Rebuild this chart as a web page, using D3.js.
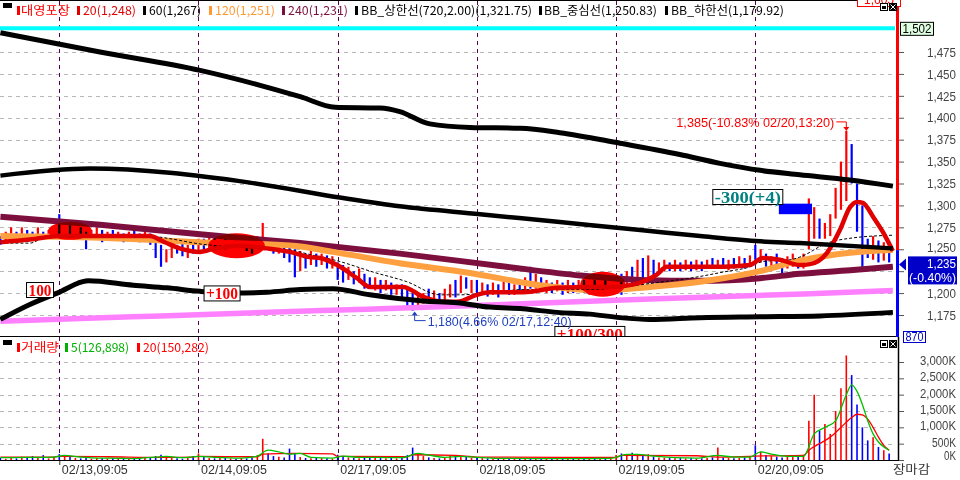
<!DOCTYPE html>
<html><head><meta charset="utf-8">
<script src="https://cdn.jsdelivr.net/npm/d3@7"></script>
<style>body{margin:0;background:#fff}svg{display:block}</style>
</head><body><svg id="c" width="960" height="480"></svg>
<script>
// ---------------- DATA ----------------
const dayLabels = ["02/13,09:05","02/14,09:05","02/17,09:05","02/18,09:05","02/19,09:05","02/20,09:05"];
const dayStart = [11,37,63,89,115,141];
const priceTicks = [1175,1200,1225,1250,1275,1300,1325,1350,1375,1400,1425,1450,1475];
const volTicks = [0,500,1000,1500,2000,2500,3000];
const stockName = "대영포장";
const maNames = ["20","60","120","240"];
const maLast = [1248,1267,1251,1231];
const bbNames = ["BB_상한선(720,2.00)","BB_중심선","BB_하한선"];
const bbLast = ["1,321.75","1,250.83","1,179.92"];
const volNames = ["5","20"];
const volLast = ["126,898","150,282"];
const highLevel = 1502;
const lastPrice = 1235, lastPct = "-0.40%", lastVol = 870, topLabel = "1,605";

const barHigh = [1265,1270,1275,1270,1275,1272,1270,1275,1270,1272,1275,
1290,1280,1278,1275,1275,1270,1272,1275,1272,1270,1272,1270,1268,1270,1272,1268,1270,1268,1265,1255,1250,1255,1255,1258,1255,1258,
1262,1262,1265,1265,1262,1265,1262,1265,1262,1262,1260,1265,1280,1262,1260,1258,1255,1252,1250,1248,1245,1248,1245,1245,1243,1242,
1235,1232,1230,1225,1228,1222,1218,1218,1215,1215,1212,1210,1210,1205,1200,1198,1200,1205,1203,1200,1205,1210,1215,1220,1218,1215,
1215,1212,1210,1212,1210,1215,1212,1210,1215,1218,1230,1222,1218,1215,1212,1215,1212,1215,1212,1215,1215,1212,1215,1218,1215,1218,
1220,1222,1225,1230,1238,1240,1243,1238,1235,1238,1235,1238,1235,1238,1236,1238,1236,1238,1240,1238,1240,1238,1240,1242,1240,1243,
1255,1250,1245,1242,1245,1240,1242,1245,1240,1245,1308,1298,1285,1280,1290,1320,1350,1385,1370,1325,1300,1262,1265,1260,1258,1250];
const barLow = [1255,1260,1265,1262,1265,1262,1260,1265,1262,1262,1265,
1265,1268,1265,1265,1262,1250,1262,1265,1258,1262,1262,1260,1258,1260,1262,1258,1260,1255,1240,1230,1235,1240,1245,1242,1240,1245,
1248,1250,1250,1252,1248,1250,1248,1252,1250,1248,1245,1250,1255,1250,1245,1245,1240,1235,1218,1225,1228,1232,1230,1232,1228,1228,
1215,1212,1215,1210,1212,1205,1205,1203,1200,1203,1198,1198,1195,1185,1180,1183,1188,1190,1190,1188,1192,1195,1195,1200,1205,1200,
1198,1198,1196,1198,1195,1200,1198,1198,1200,1202,1205,1205,1203,1200,1200,1202,1198,1200,1200,1202,1200,1198,1200,1202,1200,1203,
1205,1198,1205,1210,1212,1215,1218,1220,1222,1225,1225,1225,1225,1226,1225,1226,1225,1228,1228,1228,1228,1226,1228,1230,1228,1230,
1238,1235,1230,1225,1228,1222,1228,1230,1228,1228,1250,1262,1262,1262,1265,1285,1295,1305,1325,1270,1228,1240,1238,1235,1237,1235];
const barUp = [0,1,1,0,1,0,0,1,0,1,1,
0,1,0,1,0,0,1,1,0,1,0,1,0,1,0,0,1,0,0,0,1,1,0,0,1,0,
1,0,1,0,1,0,1,0,1,0,0,1,1,0,0,1,0,0,0,1,0,1,0,1,0,1,
0,0,1,0,1,0,0,1,0,1,0,1,0,0,0,1,1,0,1,0,1,1,0,1,0,1,
0,1,0,1,0,1,0,1,0,1,0,1,0,1,0,1,0,1,0,1,0,1,0,1,0,1,
1,0,1,0,1,0,1,0,1,1,0,1,0,1,0,1,0,1,0,1,0,1,0,1,0,1,
0,1,0,1,0,0,1,1,0,1,1,1,0,1,1,1,1,1,0,0,0,0,1,0,1,0];
const volume = [60,40,80,50,100,70,120,60,150,50,90,
180,120,90,60,50,80,40,60,50,40,60,50,40,30,50,40,60,80,120,160,90,60,50,40,60,120,
200,90,60,50,70,60,50,40,60,50,80,150,650,200,120,100,80,350,200,90,60,50,70,60,50,40,
160,120,80,60,50,70,120,80,60,50,60,50,70,150,380,200,120,80,60,50,70,120,150,90,110,60,
80,60,50,40,50,60,40,30,50,40,60,40,30,40,30,40,30,40,30,50,40,60,50,40,50,60,
150,200,180,220,150,120,180,100,80,70,60,50,60,50,60,40,50,60,80,380,80,60,50,60,80,120,
450,250,150,120,100,80,100,90,120,150,1200,2000,900,1100,800,1500,2200,3200,2600,1700,1000,600,700,400,300,200];

const bbUpper = [[0,1497],[18.6,1475],[37.3,1454],[48.5,1437],[56,1424],[62.5,1412],[70.9,1411],[74.6,1407],[80.2,1393],[87.7,1389],[97.1,1388],[104.5,1383],[115.7,1371],[126.9,1358],[134.4,1348],[141.9,1340],[149.3,1335],[158.7,1329],[166.7,1322]];
const bbMiddle = [[0,1334],[16.7,1342],[46.6,1326],[63.4,1309],[74.6,1299],[89.6,1290],[104.5,1281],[119.5,1272],[130.7,1265],[141.9,1259],[149.3,1257],[166.7,1251]];
const bbLower = [[0,1170],[5.5,1187],[10.6,1200],[16.4,1214],[24.8,1209],[31.1,1206],[37.3,1202],[43.4,1200],[49.8,1201],[56,1204],[62.1,1205],[69,1198],[78.9,1191],[85.3,1189],[91.4,1184],[97.6,1182],[104,1178],[110.1,1176],[115.7,1172],[121.3,1170],[130.7,1172],[141.9,1173],[153.1,1174],[166.7,1178]];
const pinkLine = [[0,1168],[30,1174],[60,1180],[90,1186],[120,1193],[150,1199],[166.7,1203]];
const ma240 = [[0,1287],[18.6,1278],[37.3,1267],[56,1257],[74.6,1245],[93.3,1231],[108.3,1220],[119.5,1215],[130.7,1214],[141.9,1217],[149.3,1222],[158.7,1226],[166.7,1230]];
const ma120 = [[0,1265],[18.6,1263],[37.3,1258],[54.7,1254],[62.1,1247],[74.6,1234],[87.7,1223],[100.8,1209],[112,1203],[121.3,1207],[130.7,1213],[141.9,1225],[149.3,1237],[158.7,1246],[166.7,1249]];
const ma60 = [[0,1257],[5.5,1257],[8.3,1263],[18.6,1264],[29.2,1264],[31.7,1262],[37.3,1256],[42.9,1253],[48.5,1251],[54.1,1249],[57.8,1244],[63.4,1236],[69.6,1224],[75.9,1213],[82.1,1198],[85.3,1198],[91.4,1200],[97.6,1204],[110.1,1204],[116.3,1207],[122.6,1212],[128.8,1217],[135,1224],[140,1230],[142.4,1236],[147.5,1238],[149.3,1241],[154.4,1257],[159.3,1263],[166.7,1266]];
const ma20 = [[0,1258],[5.5,1261],[11.1,1265],[18.6,1265],[27.9,1265],[30.7,1258],[33.5,1251],[37.3,1247],[40.1,1251],[44.8,1254],[49.8,1251],[54.1,1247],[57.8,1241],[59.7,1240],[62.9,1232],[66.6,1217],[69,1207],[75.2,1207],[78.9,1196],[82.7,1190],[85.3,1190],[89,1198],[91.4,1201],[97.6,1201],[104,1206],[110.1,1207],[113.9,1207],[119.5,1212],[122.6,1221],[124.5,1230],[128.8,1230],[135,1230],[140,1232],[142.4,1240],[145.6,1238],[149.3,1232],[151.2,1233],[154.4,1246],[156.8,1272],[158.7,1298],[160,1304],[161.1,1303],[163,1287],[164.9,1269],[166.7,1248]];
const volMa5 = [[0,70],[5,80],[10,90],[12,140],[15,90],[20,55],[25,45],[29,90],[31,110],[34,70],[37,110],[40,80],[45,55],[48,120],[50,300],[52,250],[54,180],[56,200],[58,80],[62,60],[64,120],[67,80],[70,80],[75,70],[78,200],[80,150],[83,80],[86,110],[89,80],[93,50],[100,45],[110,45],[114,50],[117,170],[119,170],[122,120],[126,70],[130,55],[134,140],[137,90],[140,90],[142,250],[144,180],[147,110],[150,110],[152,800],[154,1000],[156,1200],[158,2000],[159,2300],[160,2100],[161,1700],[162,1200],[163,800],[164,550],[165,400],[166,300]];
const volMa20 = [[0,90],[10,90],[11,110],[20,100],[30,80],[36,90],[37,110],[48,100],[49,180],[55,200],[62,190],[63,110],[76,100],[77,160],[85,140],[89,90],[115,80],[116,140],[130,130],[134,90],[141,120],[150,140],[151,300],[153,500],[155,700],[157,1000],[159,1300],[160,1400],[161,1380],[162,1250],[163,1000],[164,700],[165,450],[166,300]];

// signal events
const sigEllipses = [{i:13,p:1271},{i:44.1,p:1254},{i:112.5,p:1210}];
const sigLabels = [{i:7.4,p:1203.5,t:"100"},{i:41.4,p:1199.6,t:"+100"},{i:110.1,p:1153.4,t:"+100/300"},{i:139.6,p:1309.6,t:"-300(+4)"}];
const sigBlock = {i0:145.4,i1:151.6,p0:1290,p1:1302};
const hiNote = {i:158,p:1385,t:"1,385(-10.83% 02/20,13:20)"};
const loNote = {i:77,p:1180,t:"1,180(4.66% 02/17,12:40)"};

// ---------------- DRAW ----------------
const FONT = "'Noto Sans CJK KR','Noto Sans',sans-serif";
const NUM = "'Liberation Sans','DejaVu Sans',sans-serif";
const svg = d3.select("#c");
svg.append("rect").attr("width",960).attr("height",480).attr("fill","#fff");
const x = d3.scaleLinear().domain([0,167]).range([0.4,894.5]);
const y = d3.scaleLinear().domain([1175,1475]).range([315,52]);
const yv = d3.scaleLinear().domain([0,3000]).range([460,362]);
const PR = 895;

const defs = svg.append("defs");
defs.append("clipPath").attr("id","cp").append("rect").attr("x",0).attr("y",1).attr("width",PR).attr("height",336);
defs.append("clipPath").attr("id","cv").append("rect").attr("x",0).attr("y",337).attr("width",PR).attr("height",124);

// gridlines
const grid = svg.append("g");
grid.selectAll("line.hp").data(priceTicks).join("line")
  .attr("x1",0).attr("x2",PR).attr("y1",d=>Math.round(y(d))+0.5).attr("y2",d=>Math.round(y(d))+0.5)
  .attr("stroke","#b8b8b8").attr("stroke-dasharray","4,4");
grid.selectAll("line.hv").data(volTicks.slice(1)).join("line")
  .attr("x1",0).attr("x2",PR).attr("y1",d=>Math.round(yv(d))+0.5).attr("y2",d=>Math.round(yv(d))+0.5)
  .attr("stroke","#b8b8b8").attr("stroke-dasharray","4,4");
grid.selectAll("line.vd").data(dayStart).join("line")
  .attr("x1",d=>Math.round(x(d))+0.5).attr("x2",d=>Math.round(x(d))+0.5).attr("y1",1).attr("y2",461)
  .attr("stroke","#5a0050").attr("stroke-dasharray","4,4");

// price panel
const P = svg.append("g").attr("clip-path","url(#cp)");
P.append("line").attr("x1",0).attr("x2",PR).attr("y1",y(highLevel)).attr("y2",y(highLevel))
  .attr("stroke","#00ffff").attr("stroke-width",4);

const idx = d3.range(barHigh.length);
P.selectAll("line.bar").data(idx).join("line")
  .attr("x1",i=>x(i)).attr("x2",i=>x(i)).attr("y1",i=>y(barHigh[i])).attr("y2",i=>y(barLow[i]))
  .attr("stroke",i=>barUp[i]?"#ff0000":"#0000ff").attr("stroke-width",2.2);

const line = d3.line().x(d=>x(d[0])).y(d=>y(d[1])).curve(d3.curveMonotoneX);
function drawLine(g,data,color,w,dash){
  g.append("path").attr("d",line(data)).attr("fill","none").attr("stroke",color)
   .attr("stroke-width",w).attr("stroke-dasharray",dash||null).attr("stroke-linejoin","round");
}
drawLine(P,ma240,"#7d0f3e",6);
drawLine(P,ma120,"#ffa040",6);
drawLine(P,ma60,"#000",1,"3,2");
drawLine(P,ma20,"#e00000",4.5);
drawLine(P,pinkLine,"#ff80ff",5.5);
drawLine(P,bbLower,"#000",5);
drawLine(P,bbMiddle,"#000",4.5);
drawLine(P,bbUpper,"#000",5);

const ell = [[22,9],[28.5,12.5],[22.5,12.5]];
P.selectAll("ellipse").data(sigEllipses).join("ellipse")
  .attr("cx",d=>x(d.i)).attr("cy",d=>y(d.p)).attr("rx",(d,k)=>ell[k][0]).attr("ry",(d,k)=>ell[k][1])
  .attr("fill","#ff0000").style("mix-blend-mode","multiply");

P.append("rect").attr("x",x(sigBlock.i0)).attr("y",y(sigBlock.p1)).attr("width",x(sigBlock.i1)-x(sigBlock.i0))
  .attr("height",y(sigBlock.p0)-y(sigBlock.p1)).attr("fill","#0000ff");

const boxW = [27,36,70,70];
const sg = P.selectAll("g.sig").data(sigLabels).join("g").attr("transform",d=>`translate(${x(d.i)},${y(d.p)})`);
sg.append("rect").attr("x",(d,k)=>-boxW[k]/2).attr("y",-7.5).attr("width",(d,k)=>boxW[k]).attr("height",15)
  .attr("fill","#fff").attr("stroke","#000");
sg.append("text").attr("text-anchor","middle").attr("y",6).text(d=>d.t)
  .attr("font-family","'Liberation Serif',serif").attr("font-weight","bold").attr("font-size",16)
  .attr("fill",(d,k)=>k===3?"#008080":"#ff0000")
  .attr("textLength",(d,k)=>boxW[k]-4).attr("lengthAdjust","spacingAndGlyphs");

// high / low notes
const hx = x(hiNote.i), hy = y(hiNote.p);
P.append("path").attr("d",`M${hx-10},${hy-9}H${hx}V${hy-3}`).attr("fill","none").attr("stroke","#ff0000");
P.append("path").attr("d",`M${hx-3},${hy-4}L${hx+3},${hy-4}L${hx},${hy}Z`).attr("fill","#ff0000");
P.append("text").attr("x",hx-12).attr("y",hy-4).attr("text-anchor","end").text(hiNote.t)
  .attr("font-family",NUM).attr("font-size",12).attr("fill","#ff0000")
  .attr("textLength",158).attr("lengthAdjust","spacingAndGlyphs");
const lx = x(loNote.i)+2, ly = y(loNote.p);
P.append("path").attr("d",`M${lx},${ly+4}V${ly+10}H${lx+11}`).attr("fill","none").attr("stroke","#1f3fbf");
P.append("path").attr("d",`M${lx-3},${ly+5}L${lx+3},${ly+5}L${lx},${ly+1}Z`).attr("fill","#1f3fbf");
P.append("text").attr("x",lx+13).attr("y",ly+15).text(loNote.t)
  .attr("font-family",NUM).attr("font-size",12).attr("fill","#1f3fbf")
  .attr("textLength",144).attr("lengthAdjust","spacingAndGlyphs");

// volume panel
const V = svg.append("g").attr("clip-path","url(#cv)");
V.selectAll("line.vb").data(idx).join("line")
  .attr("x1",i=>x(i)).attr("x2",i=>x(i)).attr("y1",i=>yv(volume[i])).attr("y2",yv(0))
  .attr("stroke",i=>barUp[i]?"#ff0000":"#0000ff").attr("stroke-width",1.6);
const vline = d3.line().x(d=>x(d[0])).y(d=>yv(d[1])).curve(d3.curveMonotoneX);
V.append("path").attr("d",vline(volMa20)).attr("fill","none").attr("stroke","#ff0000").attr("stroke-width",1.3);
V.append("path").attr("d",vline(volMa5)).attr("fill","none").attr("stroke","#00c000").attr("stroke-width",1.3);

// frame lines
svg.append("line").attr("x1",0).attr("x2",899).attr("y1",0.5).attr("y2",0.5).attr("stroke","#000");
svg.append("line").attr("x1",0).attr("x2",899).attr("y1",336.5).attr("y2",336.5).attr("stroke","#000");
svg.append("line").attr("x1",0).attr("x2",899).attr("y1",460.5).attr("y2",460.5).attr("stroke","#000");
svg.append("line").attr("x1",898.5).attr("x2",898.5).attr("y1",337).attr("y2",461).attr("stroke","#000").attr("stroke-width",1.5);

// right axis (price)
const cy = y(lastPrice);
svg.append("rect").attr("x",896).attr("y",0).attr("width",3).attr("height",y(1249)).attr("fill","#ff0000");
svg.append("rect").attr("x",896).attr("y",y(1249)).attr("width",3).attr("height",337-y(1249)).attr("fill","#0000ff");
const ga = svg.append("g").attr("transform","translate(899,0)")
  .call(d3.axisRight(y).tickValues(priceTicks).tickSize(5).tickFormat(d3.format(",")));
ga.select(".domain").remove();
ga.selectAll("line").attr("stroke","#555");
ga.selectAll("text").attr("x",57).attr("text-anchor","end").attr("fill","#444").attr("dy","0.35em")
  .attr("font-family",NUM).attr("font-size",12).attr("textLength",29).attr("lengthAdjust","spacingAndGlyphs")
  .attr("display",d=>(y(d)>cy-8 && y(d)<cy+24)?"none":null)
  .attr("y",d=>(y(d)>cy-16 && y(d)<=cy-8)?-2:0);

// right axis (volume)
const gv = svg.append("g").attr("transform","translate(899,0)")
  .call(d3.axisRight(yv).tickValues(volTicks).tickSize(5).tickFormat(d=>d3.format(",")(d)+"K"));
gv.select(".domain").remove();
gv.selectAll("line").attr("stroke","#555");
gv.selectAll("text").attr("x",57).attr("text-anchor","end").attr("fill","#444")
  .attr("font-family",NUM).attr("font-size",12).attr("dy",d=>d===0?"-0.05em":"0.2em")
  .attr("textLength",d=>(d3.format(",")(d)+"K").length*6).attr("lengthAdjust","spacingAndGlyphs");

// value boxes
svg.append("rect").attr("x",900.5).attr("y",y(highLevel)-6).attr("width",33).attr("height",13)
  .attr("fill","#e0ffe0").attr("stroke","#000");
svg.append("text").attr("x",917).attr("y",y(highLevel)+4.5).attr("text-anchor","middle").text(d3.format(",")(highLevel))
  .attr("font-family",NUM).attr("font-size",12).attr("fill","#000").attr("textLength",29).attr("lengthAdjust","spacingAndGlyphs");
svg.append("rect").attr("x",908).attr("y",cy-6).attr("width",49).attr("height",28).attr("fill","#0000c8");
svg.append("path").attr("d",`M899,${cy+2}L906,${cy-4}L906,${cy+8}Z`).attr("fill","#0000c8");
svg.append("text").attr("x",956).attr("y",cy+6).attr("text-anchor","end").text(d3.format(",")(lastPrice))
  .attr("font-family",NUM).attr("font-size",12).attr("fill","#fff").attr("textLength",29).attr("lengthAdjust","spacingAndGlyphs");
svg.append("text").attr("x",956).attr("y",cy+20).attr("text-anchor","end").text("("+lastPct+")")
  .attr("font-family",NUM).attr("font-size",12).attr("fill","#fff").attr("textLength",47).attr("lengthAdjust","spacingAndGlyphs");
svg.append("rect").attr("x",903.5).attr("y",331.5).attr("width",22).attr("height",11).attr("fill","#fff").attr("stroke","#0000c8");
svg.append("text").attr("x",914.5).attr("y",341).attr("text-anchor","middle").text(lastVol)
  .attr("font-family",NUM).attr("font-size",12).attr("fill","#0000c8").attr("textLength",18).attr("lengthAdjust","spacingAndGlyphs");
svg.append("rect").attr("x",857.5).attr("y",-8).attr("width",43).attr("height",14.5).attr("fill","#fff").attr("stroke","#ff0000");
svg.append("text").attr("x",879).attr("y",4).attr("text-anchor","middle").text(topLabel)
  .attr("font-family",NUM).attr("font-size",12).attr("fill","#ff0000");

// panel buttons
function buttons(top){
  svg.append("rect").attr("x",880.5).attr("y",top+0.5).attr("width",7).attr("height",7).attr("fill","#fff").attr("stroke","#000");
  svg.append("rect").attr("x",882).attr("y",top+3).attr("width",4).attr("height",3).attr("fill","#000");
  svg.append("rect").attr("x",889).attr("y",top).attr("width",8).attr("height",8).attr("fill","#000");
  svg.append("path").attr("d",`M890.5,${top+1.5}L895.5,${top+6.5}M895.5,${top+1.5}L890.5,${top+6.5}`).attr("stroke","#fff");
}
buttons(3); buttons(340);

// headers
function legend(top, items){
  svg.append("rect").attr("x",3).attr("y",top).attr("width",9).attr("height",5).attr("fill","#000");
  items.forEach(it=>{
    svg.append("rect").attr("x",it.ix).attr("y",top+3).attr("width",3).attr("height",9).attr("fill",it.c);
    svg.append("text").attr("x",it.tx).attr("y",top+12).text(it.t).attr("fill",it.c)
      .attr("font-family",FONT).attr("font-size",12).attr("textLength",it.w).attr("lengthAdjust","spacingAndGlyphs");
  });
}
const fmt = d3.format(",");
legend(3,[
  {ix:17,tx:21,w:49,c:"#ff0000",t:stockName},
  {ix:77,tx:83,w:53,c:"#e00000",t:`${maNames[0]}(${fmt(maLast[0])})`},
  {ix:143,tx:149,w:52,c:"#000",t:`${maNames[1]}(${fmt(maLast[1])})`},
  {ix:209,tx:215,w:60,c:"#ff9933",t:`${maNames[2]}(${fmt(maLast[2])})`},
  {ix:282,tx:288,w:60,c:"#7d0f3e",t:`${maNames[3]}(${fmt(maLast[3])})`},
  {ix:355,tx:361,w:171,c:"#000",t:`${bbNames[0]}(${bbLast[0]})`},
  {ix:539,tx:544,w:113,c:"#000",t:`${bbNames[1]}(${bbLast[1]})`},
  {ix:665,tx:671,w:113,c:"#000",t:`${bbNames[2]}(${bbLast[2]})`}
]);
legend(340,[
  {ix:17,tx:21,w:38,c:"#ff0000",t:"거래량"},
  {ix:65,tx:71,w:58,c:"#00b000",t:`${volNames[0]}(${volLast[0]})`},
  {ix:137,tx:143,w:66,c:"#ff0000",t:`${volNames[1]}(${volLast[1]})`}
]);

// bottom axis
const gb = svg.append("g").attr("transform","translate(0,461)")
  .call(d3.axisBottom(x).tickValues(dayStart).tickSize(4).tickFormat((d,k)=>dayLabels[k]));
gb.select(".domain").remove();
gb.selectAll("line").attr("stroke","#333");
gb.selectAll("text").attr("text-anchor","start").attr("x",2).attr("y",4).attr("dy","0.71em").attr("fill","#333")
  .attr("font-family",NUM).attr("font-size",12).attr("textLength",66).attr("lengthAdjust","spacingAndGlyphs");
svg.append("text").attr("x",893).attr("y",474).text("장마감").attr("fill","#333")
  .attr("font-family",FONT).attr("font-size",12).attr("textLength",37).attr("lengthAdjust","spacingAndGlyphs");
</script></body></html>
